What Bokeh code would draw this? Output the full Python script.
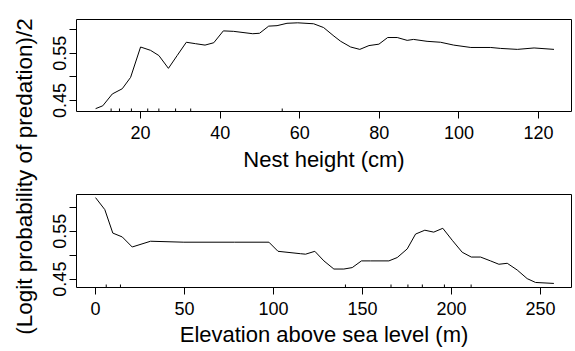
from math import pi
from bokeh.plotting import figure
from bokeh.models import FixedTicker, Label, Range1d
from bokeh.layouts import row, column
from bokeh.embed import file_html
from bokeh.resources import INLINE

# ---- data ----
nest_height = [8.7, 10.5, 12.9, 15.4, 17.5, 20.0, 22.5, 24.6, 27.0, 29.2, 31.5, 33.8,
               36.2, 38.4, 40.8, 43.4, 48.2, 49.9, 52.2, 54.3, 56.8, 59.5, 63.5, 66.0,
               68.6, 70.3, 72.8, 75.1, 77.4, 79.9, 82.1, 84.5, 87.0, 88.6, 92.0, 95.4,
               98.7, 103.0, 108.0, 110.5, 114.7, 118.9, 123.9]
nest_logit = [0.433, 0.439, 0.464, 0.475, 0.499, 0.563, 0.556, 0.545, 0.518, 0.545, 0.573, 0.570,
              0.567, 0.572, 0.597, 0.596, 0.591, 0.592, 0.607, 0.608, 0.613, 0.614, 0.612, 0.604,
              0.586, 0.575, 0.563, 0.558, 0.566, 0.569, 0.583, 0.583, 0.577, 0.579, 0.575, 0.573,
              0.567, 0.562, 0.562, 0.560, 0.558, 0.561, 0.558]
nest_rug = [12.6, 14.7, 17.7, 21.8, 24.6, 28.8, 32.6, 55.6]

elevation = [0.0, 5.2, 9.7, 15.0, 20.6, 30.9, 49.6, 78.0, 97.4, 102.5, 115.2, 118.0,
             123.2, 128.3, 133.9, 139.5, 144.2, 149.4, 154.5, 164.8, 169.5, 175.1, 179.8,
             185.0, 190.0, 195.1, 200.4, 206.0, 211.1, 216.3, 221.9, 226.6, 231.3, 236.9,
             242.5, 247.2, 257.5]
elev_logit = [0.620, 0.595, 0.546, 0.538, 0.517, 0.529, 0.527, 0.527, 0.527, 0.508, 0.503, 0.502,
              0.508, 0.488, 0.471, 0.471, 0.474, 0.488, 0.488, 0.488, 0.495, 0.513, 0.544,
              0.552, 0.548, 0.556, 0.531, 0.506, 0.496, 0.496, 0.488, 0.481, 0.483, 0.469,
              0.451, 0.443, 0.441]
elev_rug = [6.0, 14.0, 140.4, 166.0, 175.5, 183.6, 196.0, 211.0]

nest_xticks = [20, 40, 60, 80, 100, 120]
elev_xticks = [0, 50, 100, 150, 200, 250]
y_ticks = [0.45, 0.55]
y_minor_ticks = [0.50, 0.60]

nest_xlabel = "Nest height (cm)"
elev_xlabel = "Elevation above sea level (m)"
y_label = "(Logit probability of predation)/2"

FONT = "Liberation Sans"


def make_panel(x, y, rug, xticks, xr, yr, xlabel, height, mb_top, mb_bottom,
               lab_standoff, title_standoff):
    p = figure(width=537, height=height, output_backend="svg", toolbar_location=None,
               x_range=Range1d(*xr), y_range=Range1d(*yr),
               min_border_left=38, min_border_right=4,
               min_border_top=mb_top, min_border_bottom=mb_bottom)
    p.grid.visible = False
    p.outline_line_color = "black"
    p.outline_line_width = 1
    p.outline_line_alpha = 1.0
    p.background_fill_color = "white"
    p.border_fill_color = "white"

    p.line(x, y, line_color="black", line_width=1)
    p.scatter(rug, [yr[0]] * len(rug), marker="dash", angle=pi / 2, size=6,
              line_color="black", line_width=1)

    p.xaxis.ticker = FixedTicker(ticks=xticks)
    p.yaxis.ticker = FixedTicker(ticks=y_ticks, minor_ticks=y_minor_ticks)
    for ax in (p.xaxis[0], p.yaxis[0]):
        ax.axis_line_color = None
        ax.major_tick_line_color = "black"
        ax.minor_tick_line_color = "black"
        ax.major_tick_in = 0
        ax.major_tick_out = 7
        ax.minor_tick_in = 0
        ax.minor_tick_out = 7
        ax.major_label_text_font = FONT
        ax.major_label_text_font_size = "18px"
        ax.major_label_text_color = "black"
    p.yaxis.major_label_orientation = "vertical"
    p.yaxis.major_label_standoff = 3
    p.xaxis.major_label_standoff = lab_standoff
    p.xaxis.axis_label = xlabel
    p.xaxis.axis_label_text_font = FONT
    p.xaxis.axis_label_text_font_size = "22px"
    p.xaxis.axis_label_text_font_style = "normal"
    p.xaxis.axis_label_text_color = "black"
    p.xaxis.axis_label_standoff = title_standoff
    return p


p1 = make_panel(nest_height, nest_logit, nest_rug, nest_xticks, (3.9, 128.3), (0.427, 0.621),
                nest_xlabel, 180, 19, 69, 7, 5)
p2 = make_panel(elevation, elev_logit, elev_rug, elev_xticks, (-10.7, 267.4), (0.4325, 0.6265),
                elev_xlabel, 171, 14, 64, 7, 4)

lab = figure(width=38, height=351, output_backend="svg", toolbar_location=None,
             x_axis_type=None, y_axis_type=None, min_border=0,
             x_range=Range1d(0, 1), y_range=Range1d(0, 1))
lab.grid.visible = False
lab.outline_line_color = None
lab.add_layout(Label(x=24, y=175, x_units="screen", y_units="screen", text=y_label,
                     angle=pi / 2, text_align="center", text_baseline="middle",
                     text_font=FONT, text_font_size="22.5px", text_color="black"))

layout = row(lab, column(p1, p2))

open("out.html", "w").write(file_html(layout, INLINE))
